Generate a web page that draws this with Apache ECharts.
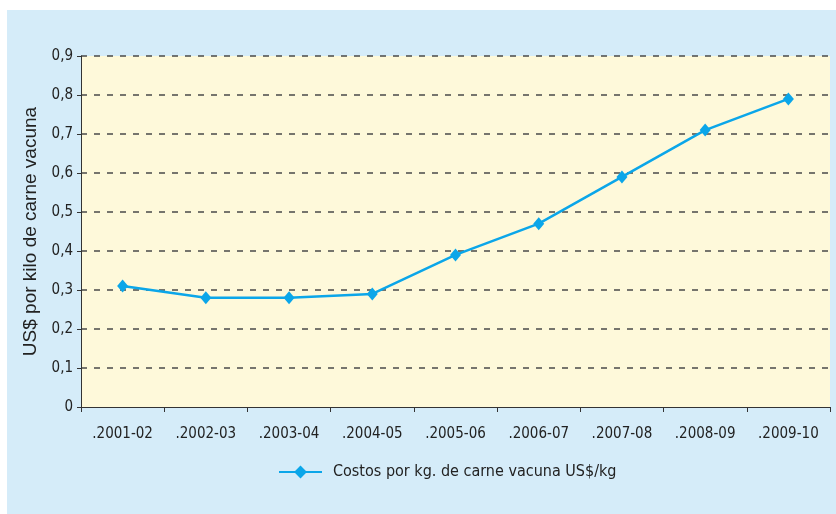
<!DOCTYPE html>
<html>
<head>
<meta charset="utf-8">
<script src="https://cdn.jsdelivr.net/npm/echarts@6/dist/echarts.min.js"></script>
<style>
html,body{margin:0;padding:0;background:#fff;}
#c{width:836px;height:514px;}
</style>
</head>
<body>
<div id="c"></div>
<script>
var categories = ['.2001-02', '.2002-03', '.2003-04', '.2004-05', '.2005-06', '.2006-07', '.2007-08', '.2008-09', '.2009-10'];
var costValues = [0.31, 0.28, 0.28, 0.29, 0.39, 0.47, 0.59, 0.71, 0.79];
var seriesName = 'Costos por kg. de carne vacuna US$/kg';
var yAxisTitle = 'US$ por kilo de carne vacuna';

var narrow = "'Liberation Sans Narrow', 'DejaVu Sans Condensed', sans-serif";
var chart = echarts.init(document.getElementById('c'), null, {renderer: 'canvas'});
chart.setOption({
  backgroundColor: '#ffffff',
  animation: false,
  graphic: [{
    type: 'rect', z: -10, silent: true,
    shape: {x: 7, y: 10, width: 829, height: 504},
    style: {fill: '#D5ECF9'}
  }],
  grid: {
    left: 81, right: 6, top: 56, bottom: 107,
    show: true, backgroundColor: '#FEF9DA', borderWidth: 0
  },
  legend: {
    top: 459, left: 273,
    itemWidth: 43, itemHeight: 16,
    data: [seriesName],
    textStyle: {fontFamily: narrow, fontSize: 16, color: '#222', padding: [0, 0, 0, 6]}
  },
  xAxis: {
    type: 'category',
    z: 5,
    data: categories,
    boundaryGap: true,
    axisLine: {lineStyle: {color: '#333', width: 1.2}},
    axisTick: {show: true, length: 5, interval: 0, lineStyle: {color: '#333'}},
    axisLabel: {fontFamily: narrow, fontSize: 15, color: '#222', margin: 20, interval: 0}
  },
  yAxis: {
    type: 'value',
    min: 0, max: 0.9, interval: 0.1,
    name: yAxisTitle,
    nameLocation: 'middle',
    nameGap: 32,
    nameTextStyle: {fontFamily: "'Liberation Sans', Arial, sans-serif", fontSize: 19, color: '#222'},
    axisLine: {show: true, lineStyle: {color: '#333', width: 1}},
    axisTick: {show: true, length: 4, lineStyle: {color: '#333'}},
    axisLabel: {
      fontFamily: narrow, fontSize: 15, color: '#222', margin: 8,
      formatter: function (v) { return v === 0 ? '0' : v.toFixed(1).replace('.', ','); }
    },
    splitLine: {show: true, showMinLine: false, lineStyle: {color: '#4a4a4a', type: [6, 7], width: 1.5}}
  },
  series: [{
    name: seriesName,
    type: 'line',
    data: costValues,
    symbol: 'diamond',
    symbolSize: [11, 13],
    itemStyle: {color: '#0BA6E9'},
    lineStyle: {color: '#0BA6E9', width: 2.5}
  }]
});
</script>
</body>
</html>
